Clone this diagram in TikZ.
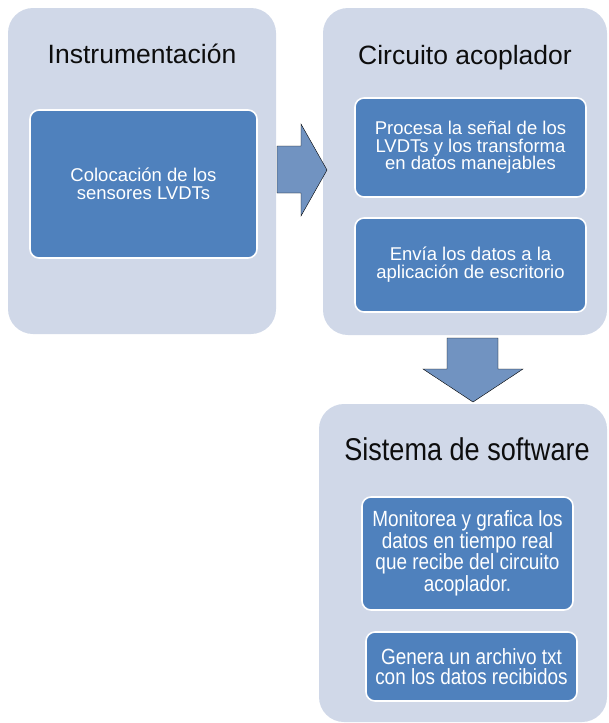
\documentclass[tikz,border=0pt]{standalone}
\usepackage{fontspec}
\setmainfont{Liberation Sans}
\newfontfamily\narrowfont{Liberation Sans}[FakeStretch=0.86]
\usetikzlibrary{positioning}
\usetikzlibrary{calc}
\definecolor{panel}{RGB}{208,216,232}
\definecolor{accent}{RGB}{79,129,189}
\definecolor{arrowblue}{RGB}{113,147,193}

\begin{document}
\begin{tikzpicture}[x=1pt, y=-1pt,
    outerbox/.style={fill=panel, rounded corners=25pt, inner sep=0pt},
    innerbox/.style={fill=accent, draw=white, line width=1.6pt, rounded corners=9pt,
        inner sep=0pt, align=center, text=white},
    title/.style={inner sep=0pt, anchor=base, text=black!95},
    blockarrow/.style={fill=arrowblue}]
    \useasboundingbox (0,0) rectangle (608,723);

    % panels
    \node[outerbox, minimum width=268pt, minimum height=326pt] (inst) at (142,171) {};
    \node[outerbox, minimum width=284pt, minimum height=327pt] (circ) at (465,171.5) {};
    \node[outerbox, minimum width=288pt, minimum height=318pt] (soft) at (463,563) {};

    % titles
    \node[title, font=\fontsize{26.5}{28}\selectfont] (instT) at (142,63.5) {Instrumentación};
    \node[title, font=\fontsize{26.5}{28}\selectfont] (circT) at (465,64.5) {Circuito acoplador};
    \node[title, font=\narrowfont\fontsize{31.5}{33}\selectfont] (softT) at (467,460) {Sistema de software};

    % steps
    \node[innerbox, minimum width=227pt, minimum height=148pt,
        font=\fontsize{18.5}{18}\selectfont] (sens) at (143.5,184)
        {Colocación de los\\sensores LVDTs};
    \node[innerbox, minimum width=231pt, minimum height=99pt,
        font=\fontsize{18.5}{17.5}\selectfont] (proc) at (470.5,147.5)
        {Procesa la señal de los\\LVDTs y los transforma\\en datos manejables};
    \node[innerbox, minimum width=231pt, minimum height=94pt,
        font=\fontsize{18.5}{18}\selectfont] (send) at (470.5,265)
        {Envía los datos a la\\aplicación de escritorio};
    \node[innerbox, minimum width=211pt, minimum height=113pt,
        font=\narrowfont\fontsize{22}{21.5}\selectfont] (mon) at (467.5,553.5)
        {Monitorea y grafica los\\datos en tiempo real\\que recibe del circuito\\acoplador.};
    \node[innerbox, minimum width=211pt, minimum height=69pt,
        font=\narrowfont\fontsize{22}{20.5}\selectfont] (gen) at (471.5,666.5)
        {Genera un archivo txt\\con los datos recibidos};

    % block arrows
    \draw[blockarrow] (277,146) -- (301,146) -- (301,124) -- (327,170)
        -- (301,216) -- (301,193) -- (277,193) -- cycle;
    \draw[blockarrow] (447,338) -- (498,338) -- (498,369) -- (523,369)
        -- (473,402) -- (423,369) -- (447,369) -- cycle;
\end{tikzpicture}
\end{document}
